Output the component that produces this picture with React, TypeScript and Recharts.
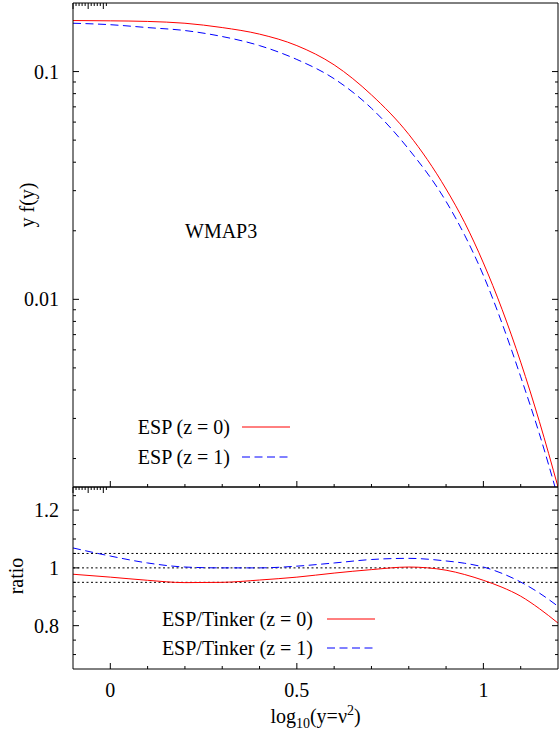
import { LineChart, Line, XAxis, YAxis, ReferenceLine, Legend } from "recharts";

const FONT = "'Liberation Serif', 'Times New Roman', serif";

// x = log10(y = nu^2)
const xValues = [-0.1, 0, 0.1, 0.2, 0.3, 0.4, 0.5, 0.6, 0.7, 0.8, 0.9, 0.95, 1.0, 1.05, 1.1, 1.15, 1.2];

// y f(y), top panel
const espZ0 = [0.1675, 0.167, 0.166, 0.163, 0.156, 0.146, 0.13, 0.107, 0.079, 0.053, 0.0305, 0.0217, 0.01445, 0.00904, 0.0053, 0.00291, 0.0015];
const espZ1 = [0.163, 0.1606, 0.156, 0.1514, 0.1425, 0.13, 0.113, 0.093, 0.069, 0.0456, 0.0269, 0.0191, 0.01274, 0.00785, 0.00457, 0.00257, 0.00135];

// ESP / Tinker, bottom panel
const ratioZ0 = [0.978, 0.968, 0.957, 0.949, 0.95, 0.958, 0.968, 0.982, 0.994, 1.003, 0.992, 0.977, 0.957, 0.933, 0.902, 0.859, 0.809];
const ratioZ1 = [1.069, 1.041, 1.017, 1.003, 1.0, 1.0, 1.006, 1.017, 1.029, 1.033, 1.024, 1.016, 1.003, 0.981, 0.951, 0.913, 0.867];

const refLines = [0.95, 1, 1.05];

const xTicks = [0, 0.1, 0.2, 0.3, 0.4, 0.5, 0.6, 0.7, 0.8, 0.9, 1, 1.1];
const xMajor = [0, 0.5, 1];
const yfTicks = [
  0.002, 0.003, 0.004, 0.005, 0.006, 0.007, 0.008, 0.009,
  0.01, 0.02, 0.03, 0.04, 0.05, 0.06, 0.07, 0.08, 0.09, 0.1,
];
const yfMajor = [0.01, 0.1];
const ratioTicks = [0.7, 0.75, 0.8, 0.85, 0.9, 0.95, 1, 1.05, 1.1, 1.15, 1.2, 1.25];
const ratioMajor = [0.8, 1, 1.2];

const topNames = ["ESP (z = 0)", "ESP (z = 1)"];
const bottomNames = ["ESP/Tinker (z = 0)", "ESP/Tinker (z = 1)"];
const title = "WMAP3";

const RED = "#ff0000";
const BLUE = "#0000ff";
const DASH = "8 4.5";

const topData = xValues.map((x, i) => ({ x, z0: espZ0[i], z1: espZ1[i] }));
const bottomData = xValues.map((x, i) => ({ x, z0: ratioZ0[i], z1: ratioZ1[i] }));

const isMajor = (v: number, majors: number[]) => majors.some((m) => Math.abs(m - v) < 1e-9);

// gnuplot style ticks: pointing into the plot, labels only on majors
const makeTick =
  (side: "left" | "right" | "top" | "bottom", majors: number[], labels: boolean) =>
  (props: any) => {
    const { x, y, payload } = props;
    const major = isMajor(payload.value, majors);
    const len = major ? 6 : 3;
    let x2 = x;
    let y2 = y;
    if (side === "left") x2 = x + len;
    if (side === "right") x2 = x - len;
    if (side === "top") y2 = y + len;
    if (side === "bottom") y2 = y - len;
    return (
      <g>
        <line x1={x} y1={y} x2={x2} y2={y2} stroke="#000" strokeWidth={1} />
        {labels && major && side === "left" && (
          <text x={x - 14} y={y + 7} textAnchor="end" style={textStyle}>
            {String(payload.value)}
          </text>
        )}
        {labels && major && side === "bottom" && (
          <text x={x} y={y + 28} textAnchor="middle" style={textStyle}>
            {String(payload.value)}
          </text>
        )}
      </g>
    );
  };

const textStyle = { fontFamily: FONT, fontSize: 20, fill: "#000" };

const LegendRow = ({ name, y, textEnd, lineFrom, lineTo, color, dashed }: any) => (
  <g>
    <text x={textEnd} y={y + 7} textAnchor="end" style={textStyle}>
      {name}
    </text>
    <line x1={lineFrom} y1={y} x2={lineTo} y2={y} stroke={color} strokeWidth={1} strokeDasharray={dashed ? DASH : undefined} />
  </g>
);

const App = () => {
  const axisLine = { stroke: "#000", strokeWidth: 1 };
  return (
    <div style={{ position: "absolute", left: 0, top: 0, width: 559, height: 734, background: "#fff" }}>
      <div style={{ position: "absolute", left: 0, top: 0 }}>
        <LineChart width={559} height={490} data={topData} margin={{ top: 2, right: 0, bottom: 2, left: 72 }}>
          <XAxis xAxisId="b" dataKey="x" type="number" domain={[-0.1, 1.2]} allowDataOverflow ticks={xTicks} interval={0} height={1} tickSize={0} tickMargin={0} axisLine={axisLine} tickLine={false} tick={makeTick("bottom", xMajor, false)} />
          <XAxis xAxisId="t" orientation="top" type="number" domain={[-0.1, 1.2]} allowDataOverflow ticks={xTicks} interval={0} height={1} tickSize={0} tickMargin={0} axisLine={axisLine} tickLine={false} tick={makeTick("top", xMajor, false)} />
          <YAxis
            yAxisId="l"
            type="number"
            scale="log"
            domain={[0.0015, 0.2]}
            allowDataOverflow
            ticks={yfTicks}
            interval={0}
            width={1}
            tickSize={0}
            tickMargin={0}
            axisLine={axisLine}
            tickLine={false}
            tick={makeTick("left", yfMajor, true)}
            label={(p: any) => {
              const vb = p && p.viewBox ? p.viewBox : { x: 72, y: 3, width: 1, height: 484 };
              const cx = vb.x + vb.width - 46;
              const cy = vb.y + vb.height / 2 - 40;
              return (
                <text x={cx} y={cy} transform={`rotate(-90 ${cx} ${cy})`} textAnchor="middle" dominantBaseline="central" style={textStyle}>
                  y f(y)
                </text>
              );
            }}
          />
          <YAxis yAxisId="r" orientation="right" type="number" scale="log" domain={[0.0015, 0.2]} allowDataOverflow ticks={yfTicks} interval={0} width={1} tickSize={0} tickMargin={0} axisLine={axisLine} tickLine={false} tick={makeTick("right", yfMajor, false)} />
          <Line xAxisId="b" yAxisId="l" type="monotone" dataKey="z0" name={topNames[0]} stroke={RED} strokeWidth={1} dot={false} isAnimationActive={false} />
          <Line xAxisId="b" yAxisId="l" type="monotone" dataKey="z1" name={topNames[1]} stroke={BLUE} strokeWidth={1} strokeDasharray={DASH} dot={false} isAnimationActive={false} />
          <Legend
            layout="horizontal"
            verticalAlign="middle"
            align="center"
            wrapperStyle={{ left: 0, top: 0, width: 559, height: 490, pointerEvents: "none" }}
            content={() => (
              <svg width={559} height={490} style={{ display: "block" }}>
                <text x={185} y={238} style={textStyle}>
                  {title}
                </text>
                <LegendRow name={topNames[0]} y={427} textEnd={230} lineFrom={242} lineTo={290} color={RED} />
                <LegendRow name={topNames[1]} y={457} textEnd={230} lineFrom={242} lineTo={290} color={BLUE} dashed />
              </svg>
            )}
          />
        </LineChart>
      </div>
      <div style={{ position: "absolute", left: 0, top: 480 }}>
        <LineChart width={559} height={254} data={bottomData} margin={{ top: 6, right: 0, bottom: 64, left: 72 }}>
          <XAxis
            xAxisId="b"
            dataKey="x"
            type="number"
            domain={[-0.1, 1.2]}
            allowDataOverflow
            ticks={xTicks}
            interval={0}
            height={1}
            tickSize={0}
            tickMargin={0}
            axisLine={axisLine}
            tickLine={false}
            tick={makeTick("bottom", xMajor, true)}
            label={(p: any) => {
              const vb = p && p.viewBox ? p.viewBox : { x: 73, y: 189, width: 485 };
              const cx = vb.x + vb.width / 2;
              const cy = vb.y + 54;
              return (
                <text x={cx} y={cy} textAnchor="middle" style={textStyle}>
                  log
                  <tspan dy={5} fontSize={14}>10</tspan>
                  <tspan dy={-5}>(y=ν</tspan>
                  <tspan dy={-8} fontSize={14}>2</tspan>
                  <tspan dy={8}>)</tspan>
                </text>
              );
            }}
          />
          <XAxis xAxisId="t" orientation="top" type="number" domain={[-0.1, 1.2]} allowDataOverflow ticks={xTicks} interval={0} height={1} tickSize={0} tickMargin={0} axisLine={axisLine} tickLine={false} tick={makeTick("top", xMajor, false)} />
          <YAxis
            yAxisId="l"
            type="number"
            domain={[0.65, 1.28]}
            allowDataOverflow
            ticks={ratioTicks}
            interval={0}
            width={1}
            tickSize={0}
            tickMargin={0}
            axisLine={axisLine}
            tickLine={false}
            tick={makeTick("left", ratioMajor, true)}
            label={(p: any) => {
              const vb = p && p.viewBox ? p.viewBox : { x: 72, y: 7, width: 1, height: 182 };
              const cx = vb.x + vb.width - 57;
              const cy = vb.y + vb.height / 2 - 2;
              return (
                <text x={cx} y={cy} transform={`rotate(-90 ${cx} ${cy})`} textAnchor="middle" dominantBaseline="central" style={textStyle}>
                  ratio
                </text>
              );
            }}
          />
          <YAxis yAxisId="r" orientation="right" type="number" domain={[0.65, 1.28]} allowDataOverflow ticks={ratioTicks} interval={0} width={1} tickSize={0} tickMargin={0} axisLine={axisLine} tickLine={false} tick={makeTick("right", ratioMajor, false)} />
          {refLines.map((v) => (
            <ReferenceLine key={v} xAxisId="b" yAxisId="l" y={v} stroke="#000" strokeWidth={1} strokeDasharray="2 2.5" />
          ))}
          <Line xAxisId="b" yAxisId="l" type="monotone" dataKey="z0" name={bottomNames[0]} stroke={RED} strokeWidth={1} dot={false} isAnimationActive={false} />
          <Line xAxisId="b" yAxisId="l" type="monotone" dataKey="z1" name={bottomNames[1]} stroke={BLUE} strokeWidth={1} strokeDasharray={DASH} dot={false} isAnimationActive={false} />
          <Legend
            layout="horizontal"
            verticalAlign="middle"
            align="center"
            wrapperStyle={{ left: 0, top: 0, width: 559, height: 254, pointerEvents: "none" }}
            content={() => (
              <svg width={559} height={254} style={{ display: "block" }}>
                <LegendRow name={bottomNames[0]} y={139} textEnd={313} lineFrom={327} lineTo={375} color={RED} />
                <LegendRow name={bottomNames[1]} y={168} textEnd={313} lineFrom={327} lineTo={375} color={BLUE} dashed />
              </svg>
            )}
          />
        </LineChart>
      </div>
    </div>
  );
};

export default App;
